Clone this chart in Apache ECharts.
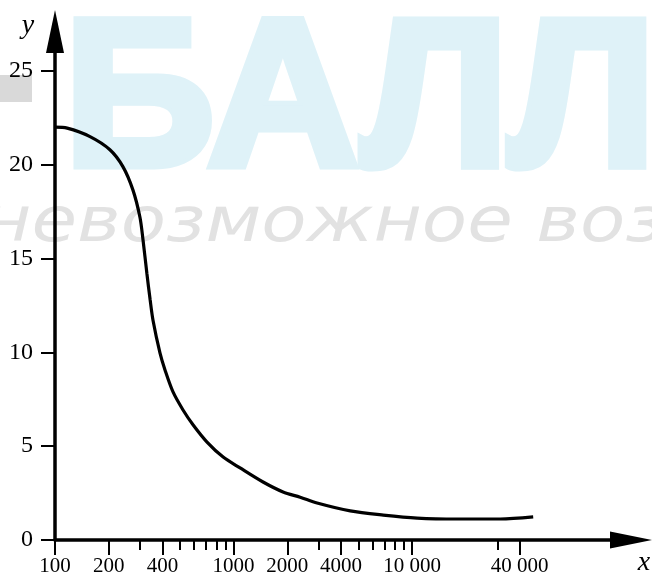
<!DOCTYPE html>
<html><head><meta charset="utf-8">
<script src="https://cdn.jsdelivr.net/npm/echarts@6/dist/echarts.min.js"></script>
<style>html,body{margin:0;padding:0;background:#fff}#c{width:652px;height:573px}</style>
</head><body><div id="c"></div>
<script>
const xValues = [100,117,157,203,240,273,299,311,327,341,354,387,413,458,521,594,710,874,1087,1462,1892,2360,2935,4500,6890,10660,17860,31100,47600];
const yValues = [22.0,21.95,21.5,20.8,19.9,18.66,17.2,16.0,14.2,12.8,11.7,9.97,9.06,7.89,6.93,6.13,5.22,4.42,3.84,3.09,2.56,2.28,1.97,1.55,1.33,1.17,1.12,1.12,1.23];
const xTickValues = [100,200,400,1000,2000,4000,10000,40000];
const xTickLabels = ['100','200','400','1000','2000','4000','10 000','40 000'];
const xMinorTicks = [300,500,600,700,800,900,3000,5000,6000,7000,8000,9000,30000];
const yTickValues = [0,5,10,15,20,25];

const chart = echarts.init(document.getElementById('c'), null, {renderer:'canvas'});
const xMin = 100, xMax = 168000;
const serif = '"Liberation Serif", "Times New Roman", serif';
function xLabel(v){
  const i = xTickValues.findIndex(t => Math.abs(t - v) / t < 1e-6);
  return i >= 0 ? xTickLabels[i] : '';
}
const option = {
  animation:false,
  grid:{left:55,right:21,top:31.5,bottom:33,outerBoundsMode:'none'},
  xAxis:[{
    type:'log', logBase:10, min:xMin, max:xMax, position:'bottom',
    axisLine:{onZero:false, lineStyle:{color:'#000',width:3.5}, symbol:['none','triangle'], symbolSize:[17,42]},
    axisTick:{customValues:xTickValues, length:15, lineStyle:{color:'#000',width:2}},
    axisLabel:{customValues:xTickValues, formatter:xLabel, color:'#000', fontFamily:serif, fontSize:21, margin:16},
    splitLine:{show:false}, minorTick:{show:false}, minorSplitLine:{show:false}
  },{
    type:'log', logBase:10, min:xMin, max:xMax, position:'bottom',
    axisLine:{show:false, onZero:false},
    axisTick:{customValues:xMinorTicks, length:10, lineStyle:{color:'#000',width:2}},
    axisLabel:{show:false},
    splitLine:{show:false}
  }],
  yAxis:{
    type:'value', min:0, max:27.1,
    axisLine:{show:true, onZero:false, lineStyle:{color:'#000',width:3.5}, symbol:['none','triangle'], symbolSize:[18,43]},
    axisTick:{show:true, customValues:yTickValues, length:14, lineStyle:{color:'#000',width:2}},
    axisLabel:{customValues:yTickValues, color:'#000', fontFamily:serif, fontSize:24, margin:22},
    splitLine:{show:false}
  },
  graphic:[
    {type:'rect', z:-10, shape:{x:0,y:75,width:32,height:27}, style:{fill:'#d9d9d9'}},
    {type:'text', z:-10, x:64, y:107, style:{text:'БАЛЛ', font:'bold 210px "Liberation Sans", Arial, sans-serif', fill:'#dff2f8', stroke:'#dff2f8', lineWidth:9, lineJoin:'miter', verticalAlign:'middle', align:'left'}},
    {type:'text', z:-9, x:-17, y:225, scaleX:1.195, style:{text:'невозможное возможно', font:'oblique 62px "DejaVu Sans", sans-serif', fill:'#e2e2e2', verticalAlign:'middle', align:'left'}},
    {type:'text', z:10, x:28, y:26, style:{text:'y', font:'italic 28px "Liberation Serif", serif', fill:'#000', align:'center', verticalAlign:'middle'}},
    {type:'text', z:10, x:644, y:563, style:{text:'x', font:'italic 28px "Liberation Serif", serif', fill:'#000', align:'center', verticalAlign:'middle'}}
  ],
  series:[{
    type:'line', xAxisIndex:0, yAxisIndex:0, z:5,
    data:xValues.map((x,i)=>[x,yValues[i]]),
    showSymbol:false, smooth:0.3,
    lineStyle:{color:'#000',width:3.2}
  }]
};
chart.setOption(option);
</script></body></html>
